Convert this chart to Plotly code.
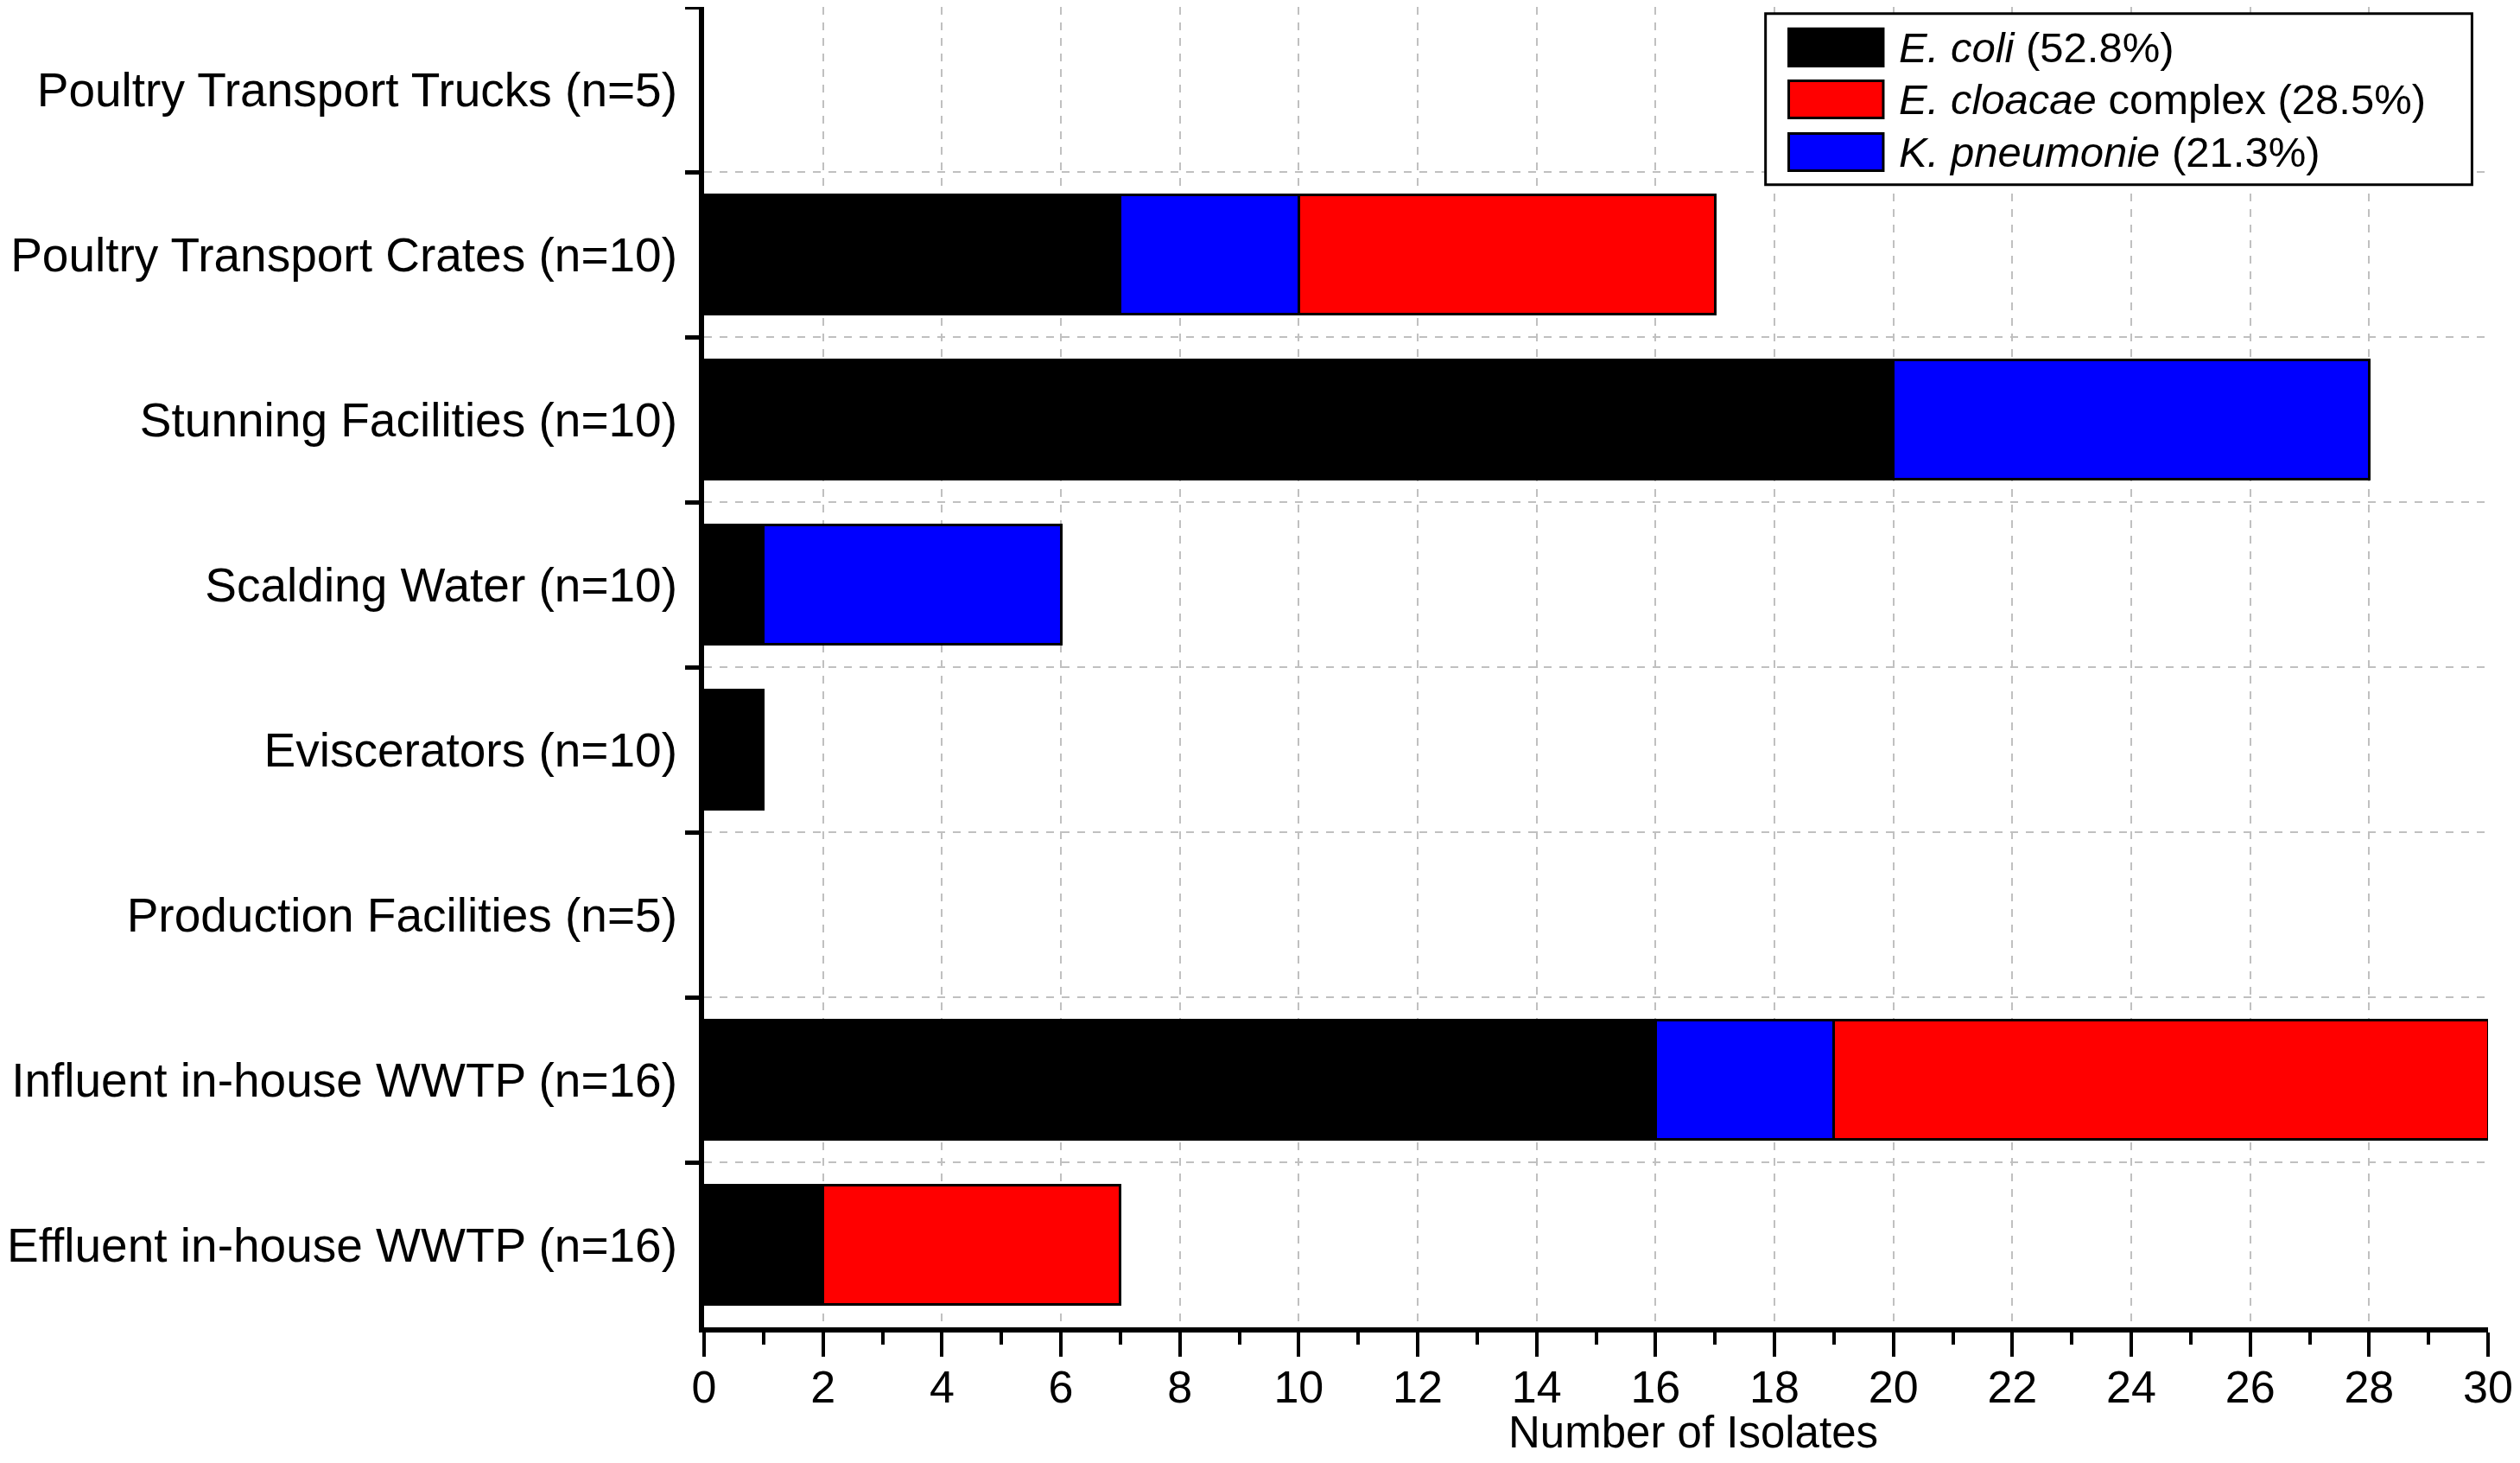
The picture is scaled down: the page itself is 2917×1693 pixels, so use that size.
import plotly.graph_objects as go

categories = [
    "Poultry Transport Trucks (n=5)",
    "Poultry Transport Crates (n=10)",
    "Stunning Facilities (n=10)",
    "Scalding Water (n=10)",
    "Eviscerators (n=10)",
    "Production Facilities (n=5)",
    "Influent in-house WWTP (n=16)",
    "Effluent in-house WWTP (n=16)",
]
e_coli = [0, 7, 20, 1, 1, 0, 16, 2]
k_pneumonie = [0, 3, 8, 5, 0, 0, 3, 0]
e_cloacae = [0, 7, 0, 0, 0, 0, 11, 5]

series_names = [
    "<i>E. coli</i> (52.8%)",
    "<i>E. cloacae</i> complex (28.5%)",
    "<i>K. pneumonie</i> (21.3%)",
]
series_colors = ["#000000", "#FF0000", "#0000FF"]

x_ticks = list(range(0, 31, 2))

FONT = "Liberation Sans, Arial, sans-serif"

fig = go.Figure()
# stacking order: E. coli, K. pneumonie, E. cloacae (zero counts drawn as no bar)
for vals, color in [(e_coli, series_colors[0]), (k_pneumonie, series_colors[2]), (e_cloacae, series_colors[1])]:
    fig.add_trace(go.Bar(
        y=categories, x=[v if v else None for v in vals], orientation="h",
        marker=dict(color=color, line=dict(color="black", width=3)),
        width=0.72, showlegend=False,
    ))

n = len(categories)
boundaries = [i - 0.5 for i in range(n + 1)]

fig.update_layout(
    barmode="stack",
    width=2901, height=1677,
    margin=dict(l=805, r=24, t=0, b=149),
    paper_bgcolor="white", plot_bgcolor="white",
    font=dict(family=FONT, size=53, color="black"),
    xaxis=dict(
        range=[0, 30], tickvals=x_ticks, ticks="outside", ticklen=28, tickwidth=4,
        tickcolor="black", showline=True, linecolor="black", linewidth=6,
        showgrid=True, gridcolor="#c0c0c0", griddash="dash", gridwidth=1.5,
        zeroline=False, tickfont=dict(size=52), ticklabeloverflow="allow",
        ticklabelstandoff=-9,
        minor=dict(dtick=1, ticks="outside", ticklen=14, tickwidth=4, tickcolor="black", showgrid=False),
    ),
    yaxis=dict(
        autorange="reversed", tickson="boundaries", ticks="outside", ticklen=16, tickwidth=5,
        tickcolor="black", showline=True, linecolor="black", linewidth=6,
        showgrid=True, gridcolor="#c0c0c0", griddash="dash", gridwidth=1.5,
        tickfont=dict(size=55), ticklabelstandoff=14,
    ),
    # inner halves of the crossing y ticks
    yaxis2=dict(
        overlaying="y", side="left", range=[n - 0.5, -0.5], tickmode="array",
        tickvals=boundaries, ticks="inside", ticklen=16, tickwidth=5, tickcolor="black",
        showticklabels=False, showgrid=False, zeroline=False, showline=False,
    ),
)

# x-axis title
fig.add_annotation(text="Number of Isolates", xref="paper", yref="paper",
                   x=0.5546, y=-0.0795, showarrow=False, font=dict(size=51),
                   xanchor="center", yanchor="middle")

# legend box (custom, to get wide swatches)
fig.add_shape(type="rect", xref="paper", yref="paper", x0=0.595, x1=0.991, y0=0.8653, y1=0.9950,
              line=dict(color="black", width=3), fillcolor="white", layer="above")
row_y = [0.9693, 0.9300, 0.8901]
for name, color, yc in zip(series_names, series_colors, row_y):
    fig.add_shape(type="rect", xref="paper", yref="paper", x0=0.608, x1=0.661,
                  y0=yc - 0.0141, y1=yc + 0.0141, fillcolor=color,
                  line=dict(color="black", width=3), layer="above")
    fig.add_annotation(text=name, xref="paper", yref="paper", x=0.6686, y=yc,
                       showarrow=False, xanchor="left", yanchor="middle", font=dict(size=49))

fig.write_html("out.html")
